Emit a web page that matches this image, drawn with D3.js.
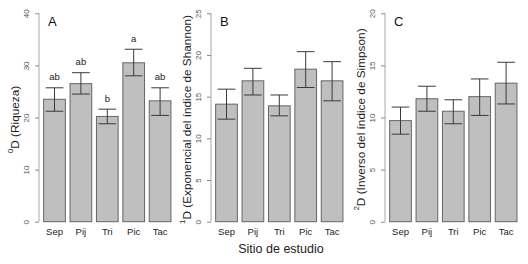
<!DOCTYPE html>
<html>
<head>
<meta charset="utf-8">
<script src="https://cdnjs.cloudflare.com/ajax/libs/d3/7.8.5/d3.min.js"></script>
<style>
  html, body { margin: 0; padding: 0; background: #fff; }
  svg { display: block; font-family: "Liberation Sans", Arial, sans-serif; }
</style>
</head>
<body>
<svg id="chart" width="528" height="264"></svg>
<script>
const categories = ["Sep", "Pij", "Tri", "Pic", "Tac"];

const richness = [23.5, 26.5, 20.2, 30.5, 23.2];
const richnessLow = [21.2, 24.5, 18.8, 28.0, 20.4];
const richnessHigh = [25.7, 28.6, 21.6, 33.1, 25.7];
const richnessLetters = ["ab", "ab", "b", "a", "ab"];
const richnessTicks = [0, 10, 20, 30, 40];

const shannon = [14.1, 16.9, 13.9, 18.3, 16.9];
const shannonLow = [12.3, 15.2, 12.7, 16.1, 14.5];
const shannonHigh = [15.9, 18.4, 15.2, 20.4, 19.2];
const shannonTicks = [0, 5, 10, 15, 20, 25];

const simpson = [9.7, 11.8, 10.6, 12.0, 13.3];
const simpsonLow = [8.4, 10.6, 9.4, 10.2, 11.3];
const simpsonHigh = [11.0, 13.0, 11.7, 13.7, 15.3];
const simpsonTicks = [0, 5, 10, 15, 20];

const panelLabels = ["A", "B", "C"];
const yTitleSup = ["0", "1", "2"];
const yTitleRest = ["D (Riqueza)", "D (Exponencial del índice de Shannon)", "D (Inverso del índice de Simpson)"];
const xTitle = "Sitio de estudio";

const svg = d3.select("#chart");
const yTop = 13.3, yBottom = 221.7;

const panels = [
  { axisX: 39, values: richness, low: richnessLow, high: richnessHigh, letters: richnessLetters, ticks: richnessTicks },
  { axisX: 211, values: shannon, low: shannonLow, high: shannonHigh, letters: null, ticks: shannonTicks },
  { axisX: 385, values: simpson, low: simpsonLow, high: simpsonHigh, letters: null, ticks: simpsonTicks }
];

panels.forEach((p, i) => {
  const g = svg.append("g");
  const maxT = p.ticks[p.ticks.length - 1];
  const y = d3.scaleLinear().domain([0, maxT]).range([yBottom, yTop]);
  const x = d3.scaleBand().domain(categories)
    .range([p.axisX + 2.3, p.axisX + 2.3 + 132])
    .paddingInner(0.14).paddingOuter(0.07);

  const rows = categories.map((c, k) => ({ c, v: p.values[k], lo: p.low[k], hi: p.high[k], l: p.letters ? p.letters[k] : null }));

  // bars
  g.selectAll("rect.bar").data(rows).join("rect")
    .attr("class", "bar")
    .attr("x", d => x(d.c) + 0.5)
    .attr("y", d => y(d.v))
    .attr("width", x.bandwidth() - 1)
    .attr("height", d => y(0) - y(d.v))
    .attr("fill", "#bfbfbf")
    .attr("stroke", "#666")
    .attr("stroke-width", 1);

  // error bars
  const capW = x.bandwidth() * 0.78;
  const eb = g.selectAll("g.err").data(rows).join("g").attr("class", "err")
    .attr("stroke", "#3a3a3a").attr("stroke-width", 1);
  eb.append("line")
    .attr("x1", d => x(d.c) + x.bandwidth() / 2).attr("x2", d => x(d.c) + x.bandwidth() / 2)
    .attr("y1", d => y(d.lo)).attr("y2", d => y(d.hi));
  eb.append("line")
    .attr("x1", d => x(d.c) + (x.bandwidth() - capW) / 2).attr("x2", d => x(d.c) + (x.bandwidth() + capW) / 2)
    .attr("y1", d => y(d.hi)).attr("y2", d => y(d.hi));
  eb.append("line")
    .attr("x1", d => x(d.c) + (x.bandwidth() - capW) / 2).attr("x2", d => x(d.c) + (x.bandwidth() + capW) / 2)
    .attr("y1", d => y(d.lo)).attr("y2", d => y(d.lo));

  // significance letters
  if (p.letters) {
    g.selectAll("text.letter").data(rows).join("text")
      .attr("class", "letter")
      .attr("x", d => x(d.c) + x.bandwidth() / 2)
      .attr("y", d => y(d.hi) - 7.5)
      .attr("text-anchor", "middle")
      .attr("font-size", 9.5)
      .attr("fill", "#222")
      .text(d => d.l);
  }

  // y axis
  const axis = d3.axisLeft(y).tickValues(p.ticks).tickSize(4).tickPadding(3).tickFormat(d3.format("d"));
  const ag = g.append("g").attr("transform", `translate(${p.axisX},0)`).call(axis);
  ag.select(".domain").attr("stroke", "#a8a8a8").attr("d", `M0,${yTop}V${yBottom}`);
  ag.selectAll(".tick line").attr("stroke", "#8a8a8a");
  ag.selectAll(".tick text")
    .attr("font-family", "'Liberation Sans', Arial, sans-serif")
    .attr("font-size", 8)
    .attr("fill", "#555")
    .attr("x", null).attr("dy", null)
    .attr("text-anchor", "middle")
    .attr("transform", "translate(-10,0) rotate(-90)")
    .attr("y", 0);

  // x category labels
  g.selectAll("text.cat").data(categories).join("text")
    .attr("class", "cat")
    .attr("x", d => x(d) + x.bandwidth() / 2)
    .attr("y", 234.5)
    .attr("text-anchor", "middle")
    .attr("font-size", 9.5)
    .attr("fill", "#222")
    .text(d => d);

  // panel label
  g.append("text")
    .attr("x", p.axisX + 9)
    .attr("y", 26)
    .attr("font-size", 13)
    .attr("fill", "#111")
    .text(panelLabels[i]);

  // y title
  const yt = g.append("text")
    .attr("transform", `translate(${p.axisX - 24},${(yTop + yBottom) / 2 + 2}) rotate(-90)`)
    .attr("text-anchor", "middle")
    .attr("dominant-baseline", "central")
    .attr("font-size", 11.8)
    .attr("fill", "#222");
  yt.append("tspan").attr("font-size", 8).attr("baseline-shift", "super").text(yTitleSup[i]);
  yt.append("tspan").text(yTitleRest[i]);
});

svg.append("text")
  .attr("x", 281)
  .attr("y", 252.5)
  .attr("text-anchor", "middle")
  .attr("font-size", 12.5)
  .attr("fill", "#222")
  .text(xTitle);
</script>
</body>
</html>
